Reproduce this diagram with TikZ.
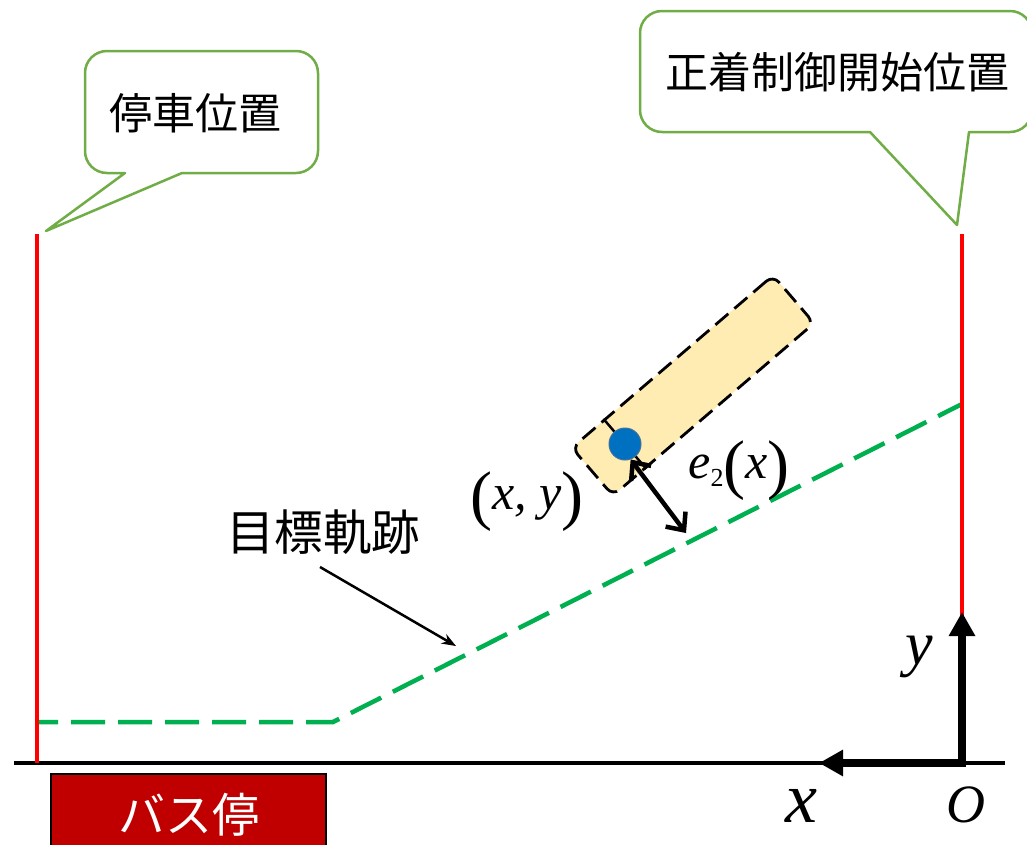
\documentclass[tikz,border=0pt]{standalone}
\usepackage{fontspec}
\setmainfont{Liberation Serif}
\newfontfamily\cjk{Noto Sans CJK JP}
\usetikzlibrary{arrows.meta,calc}
\definecolor{bubblegreen}{HTML}{70AD47}
\definecolor{pathgreen}{HTML}{00B050}
\definecolor{carfill}{HTML}{FFECB3}
\definecolor{dotblue}{HTML}{0070C0}
\definecolor{dotedge}{HTML}{41719C}
\definecolor{stopred}{HTML}{C00000}
\newcommand{\fsize}[1]{\fontsize{#1}{#1}\selectfont}
\newcommand{\tallparen}[1]{\raisebox{-8pt}{\upshape\fsize{66}#1}}

\begin{document}
\begin{tikzpicture}[
    x=1pt, y=-1pt,
    >=Stealth,
    lbl/.style={inner sep=0pt, font=\cjk\fsize{43}},
    mathlbl/.style={inner sep=0pt, font=\itshape\fsize{50}},
    callout/.style={draw=bubblegreen, line width=2.5pt, fill=white, line join=round},
    limit/.style={draw=red, line width=4pt},
    axisarr/.style={line width=8pt, {Triangle[length=24pt,width=25pt]}-{Triangle[length=24pt,width=25pt]}},
    gaparr/.style={line width=4.5pt, {Straight Barb[length=14pt,width=25pt]}-{Straight Barb[length=14pt,width=25pt]}}
]
    \useasboundingbox (0,0) rectangle (1027,844);

    \coordinate (O) at (962,763);
    \coordinate (xtip) at (819,763);
    \coordinate (ytip) at (962,612);
    \coordinate (pathstart) at (37,722);
    \coordinate (pathbend) at (333,722);
    \coordinate (pathend) at (962,404);

    \draw[callout] (125,173) [sharp corners] -- (46,231) -- (182,173) [rounded corners=22pt] -- (318,173) -- (318,51) -- (85,51) -- (85,173) [sharp corners] -- cycle;
    \draw[callout] (870,132) [sharp corners] -- (957,225) -- (969,132) [rounded corners=22pt] -- (1032,132) -- (1032,11) -- (640,11) -- (640,132) [sharp corners] -- cycle;
    \node[lbl] (stoppos) at (195,113) {停車位置};
    \node[lbl] (startpos) at (837,72) {正着制御開始位置};

    \draw[draw=pathgreen, line width=4.5pt, dash pattern=on 34pt off 13pt, dash phase=13pt] (pathstart) -- (pathbend) -- (pathend);

    \draw[line width=4pt] (14,763) -- (1005,763);
    \draw[limit] (37,234) -- (37,763);
    \draw[limit] (962,234) -- (962,625);
    \draw[axisarr] (xtip) -- (O) -- (ytip);

    \node[draw, line width=2.5pt, fill=stopred, text=white, minimum width=275pt, minimum height=84pt, inner sep=0pt, font=\cjk\fsize{47}] (busstop) at (188.5,816) {\raisebox{6pt}{バス停}};

    \node[draw, line width=2.8pt, dash pattern=on 17pt off 8pt, fill=carfill, rounded corners=9pt, rotate=40.6, minimum width=265pt, minimum height=63pt, inner sep=0pt] (car) at (693,385.5) {};
    \draw[line width=2.5pt] ($(car.north west)!0.165!(car.north east)$) -- ($(car.south west)!0.165!(car.south east)$);
    \node[circle, draw=dotedge, line width=1pt, fill=dotblue, minimum size=32pt, inner sep=0pt] (refpt) at (625,444) {};
    \coordinate (gapend) at (686,533);
    \draw[gaparr] (refpt.-70) -- (gapend);

    \node[mathlbl] (xylabel) at (527,502) {\tallparen{(}x, y\tallparen{)}};
    \node[mathlbl] (gaplabel) at (739,471) {e\raisebox{-8pt}{\upshape\fsize{26}2}\tallparen{(}x\tallparen{)}};

    \node[lbl, font=\cjk\fsize{48.5}] (pathlabel) at (323,532) {目標軌跡};
    \coordinate (pathpt) at (456,646);
    \draw[->, line width=2.5pt] (320,567) -- (pathpt);

    \node[mathlbl, font=\itshape\fsize{62}] (ylabel) at (919,657) {y};
    \node[mathlbl, font=\itshape\fsize{72}] (xlabel) at (801,806) {x};
    \node[mathlbl, font=\itshape\fsize{54}] (olabel) at (966,805) {O};
\end{tikzpicture}
\end{document}
